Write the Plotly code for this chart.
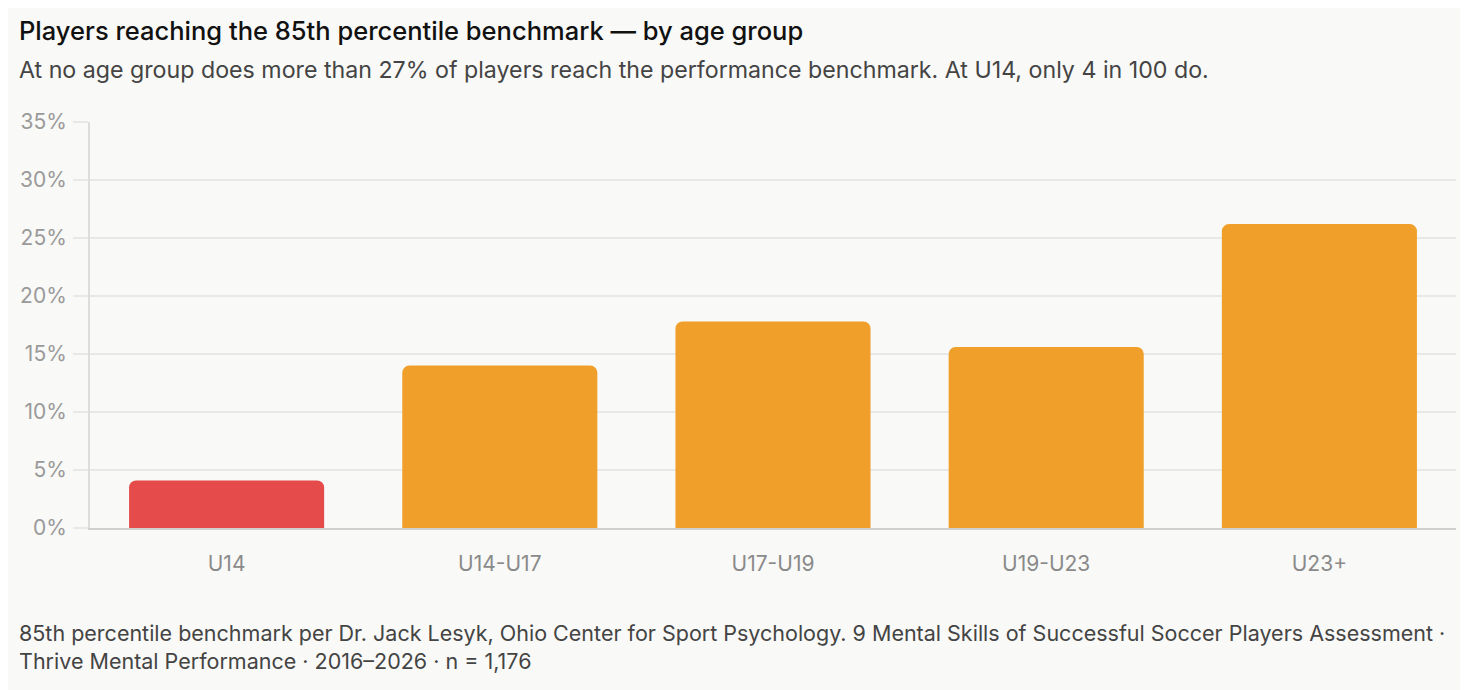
import plotly.graph_objects as go

# Data
age_groups = ["U14", "U14-U17", "U17-U19", "U19-U23", "U23+"]
pct_reaching = [4.1, 14.0, 17.8, 15.6, 26.2]
bar_colors = ["#E54B4B", "#F0A02A", "#F0A02A", "#F0A02A", "#F0A02A"]
y_ticks = [0, 5, 10, 15, 20, 25, 30, 35]
y_tick_labels = [f"{t}%" for t in y_ticks]

BG = "#F9F9F7"
FONT = "Inter, Noto Sans, sans-serif"

# the page puts the figure 8px in from the corner, so margins are trimmed by 8
PLOT_H = 690 - 114 - 170
PLOT_W = 1468 - 82 - 20
TEXT_X = (9 - 82) / PLOT_W

fig = go.Figure()
fig.add_trace(
    go.Bar(
        x=age_groups,
        y=pct_reaching,
        marker=dict(color=bar_colors, cornerradius=7, line=dict(width=0)),
        hoverinfo="x+y",
    )
)

fig.update_layout(
    width=1468,
    height=690,
    paper_bgcolor=BG,
    plot_bgcolor=BG,
    margin=dict(l=82, r=20, t=114, b=170),
    bargap=0.286,
    showlegend=False,
    font=dict(family=FONT, color="#333"),
)

fig.update_yaxes(
    range=[0, 35],
    tickvals=y_ticks,
    ticktext=y_tick_labels,
    showgrid=True,
    gridcolor="#E8E8E6",
    gridwidth=2,
    zeroline=False,
    showline=True,
    linecolor="#DDDDDB",
    linewidth=2,
    ticks="outside",
    ticklen=15,
    tickcolor="#E8E8E6",
    tickwidth=2,
    ticklabelstandoff=2,
    tickfont=dict(size=21, color="#9A9A9A", family=FONT),
)

fig.update_xaxes(
    showline=True,
    linecolor="#D0D0CE",
    linewidth=2,
    ticks="",
    ticklabelstandoff=16,
    tickfont=dict(size=21, color="#8A8A8A", family=FONT),
)

fig.add_annotation(
    text="Players reaching the 85th percentile benchmark — by age group",
    xref="paper", yref="paper", x=TEXT_X, y=1.0 + 92 / PLOT_H,
    xanchor="left", yanchor="middle", showarrow=False,
    font=dict(size=25.5, color="#111", family=FONT, weight=500),
)
fig.add_annotation(
    text="At no age group does more than 27% of players reach the performance benchmark. At U14, only 4 in 100 do.",
    xref="paper", yref="paper", x=TEXT_X, y=1.0 + 52 / PLOT_H,
    xanchor="left", yanchor="middle", showarrow=False,
    font=dict(size=23.2, color="#444", family=FONT),
)
fig.add_annotation(
    text="85th percentile benchmark per Dr. Jack Lesyk, Ohio Center for Sport Psychology. 9 Mental Skills of Successful Soccer Players Assessment ·<br>Thrive Mental Performance · 2016–2026 · n = 1,176",
    xref="paper", yref="paper", x=TEXT_X, y=-(90 / PLOT_H),
    xanchor="left", yanchor="top", showarrow=False, align="left",
    font=dict(size=21.5, color="#444", family=FONT),
)

fig.write_html("out.html")
